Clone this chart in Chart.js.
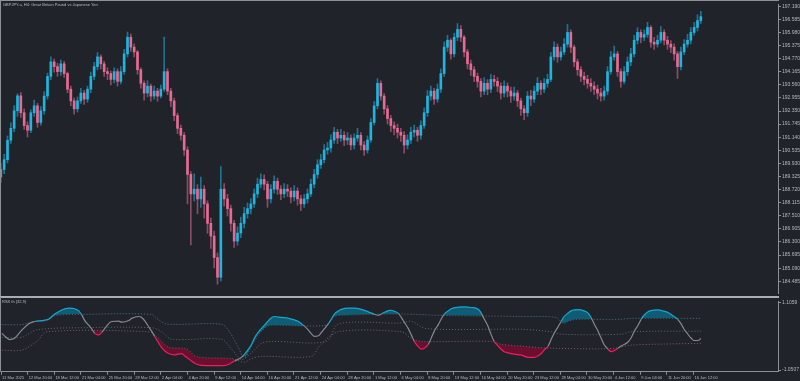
<!DOCTYPE html>
<html><head><meta charset="utf-8">
<script src="https://cdn.jsdelivr.net/npm/chart.js@4.4.1/dist/chart.umd.min.js"></script>
<style>
html,body{margin:0;padding:0;background:#20242a;width:800px;height:381px;overflow:hidden;position:relative}
canvas{position:absolute;left:0}
#c1{top:0}
#c2{top:297px}
.t{position:absolute;color:#b9bcc2;font-family:"Liberation Sans",Arial,sans-serif;font-size:4px;white-space:nowrap;line-height:5px}
</style></head><body>
<canvas id="c1" width="800" height="297"></canvas>
<canvas id="c2" width="800" height="84"></canvas>
<div class="t" style="left:3px;top:2px">GBPJPY.a, H4: Great Britain Pound vs Japanese Yen</div>
<div class="t" style="left:2px;top:299px">RSX th (32,9)</div>
<script>
// ---- price data (H4 candles, two bars per sample) ----
const firstOpen = 189.30;
const closes = [
189.65,190.10,191.00,191.55,192.36,193.05,192.27,191.68,191.46,192.27,
192.59,191.82,192.36,193.04,193.95,194.62,194.40,194.17,194.53,194.08,
193.36,192.82,192.45,192.82,193.18,192.90,193.36,193.95,194.40,194.85,
194.53,194.17,194.08,193.81,194.17,193.72,194.17,194.99,195.76,195.30,
195.08,194.26,193.63,193.18,193.50,193.04,193.27,193.04,193.36,194.17,
193.27,192.82,192.14,191.55,191.23,190.55,189.42,188.52,188.74,188.29,
188.74,188.06,187.16,186.57,185.58,184.67,188.74,188.29,187.84,187.16,
186.34,186.71,187.16,187.61,187.84,188.06,188.52,188.97,189.19,188.97,
188.29,188.74,189.10,188.74,188.52,188.74,188.65,188.38,188.65,188.29,
188.06,188.29,188.52,188.97,189.42,189.87,190.10,190.55,190.64,191.01,
191.37,191.10,191.23,191.01,191.10,190.78,191.10,191.23,190.78,190.55,
191.01,191.82,192.59,193.63,193.04,192.45,192.00,191.68,191.55,191.37,
191.23,190.78,191.01,191.37,191.46,191.23,191.68,192.27,193.04,193.27,
192.90,193.36,194.08,195.30,195.62,194.99,195.76,196.12,195.76,195.08,
194.53,194.26,193.95,193.72,193.27,193.63,193.36,193.81,193.72,193.50,
193.18,193.50,193.27,193.04,193.18,192.82,192.45,192.27,193.04,192.90,
193.27,193.63,193.36,193.63,193.81,194.85,195.30,194.85,195.08,195.44,
195.98,195.30,194.62,194.26,193.95,193.81,193.63,193.50,193.36,193.18,
193.04,193.27,194.17,194.85,194.99,194.17,193.72,194.17,194.62,194.99,
195.62,195.98,195.76,195.89,196.21,195.53,195.44,195.62,195.98,195.62,
195.44,195.30,194.99,194.40,195.08,195.44,195.62,195.98,196.21,196.53,
196.71];
const highs = [
189.95,190.35,191.20,191.80,192.60,193.15,193.20,192.45,191.85,192.40,
192.85,192.70,192.55,193.25,194.10,194.85,194.75,194.55,194.70,194.65,
194.15,193.50,192.95,193.00,193.40,193.30,193.50,194.15,194.60,195.05,
194.95,194.65,194.35,194.20,194.35,194.30,194.40,195.20,196.00,195.90,
195.45,195.15,194.35,193.75,193.75,193.60,193.50,193.40,193.55,195.76,
194.30,193.40,192.95,192.25,191.70,191.35,190.70,189.55,189.45,188.95,
189.30,188.90,188.20,187.40,186.80,185.80,189.78,189.00,188.50,188.00,
187.30,187.00,187.45,187.90,188.10,188.30,188.75,189.25,189.45,189.40,
189.10,188.95,189.35,189.25,188.90,189.00,188.95,188.80,188.90,188.80,
188.45,188.50,188.75,189.20,189.65,190.10,190.35,190.80,190.90,191.25,
191.60,191.50,191.50,191.40,191.35,191.25,191.30,191.55,191.35,190.95,
191.20,192.00,192.80,193.85,193.75,193.15,192.60,192.15,191.85,191.75,
191.55,191.40,191.25,191.60,191.70,191.60,191.90,192.50,193.30,193.50,
193.40,193.60,194.30,195.55,195.85,195.70,195.95,196.39,196.30,195.85,
195.20,194.70,194.40,194.10,193.85,193.90,193.80,194.05,194.00,193.90,
193.65,193.75,193.65,193.45,193.45,193.30,192.95,192.60,193.25,193.30,
193.50,193.90,193.75,193.85,194.05,195.05,195.55,195.45,195.30,195.70,
196.35,196.10,195.40,194.75,194.40,194.15,194.00,193.85,193.70,193.55,
193.40,193.50,194.40,195.10,195.35,195.10,194.30,194.40,194.85,195.25,
195.85,196.20,196.10,196.10,196.45,196.30,195.75,195.85,196.25,196.10,
195.80,195.60,195.45,195.10,195.30,195.65,195.90,196.20,196.45,196.80,
196.95];
const lows = [
189.05,189.45,189.95,190.85,191.40,192.10,192.05,191.50,191.15,191.35,
192.10,191.60,191.70,192.20,192.90,193.80,194.15,193.95,194.00,193.90,
193.20,192.60,192.20,192.30,192.70,192.65,192.75,193.20,193.80,194.25,
194.30,193.95,193.80,193.55,193.65,193.50,193.60,194.05,194.85,195.10,
194.85,194.05,193.40,192.85,193.00,192.80,192.90,192.80,192.95,193.25,
193.10,192.55,191.90,191.30,191.00,190.30,188.06,186.16,188.20,187.60,
187.90,187.40,186.70,186.00,185.10,184.35,184.50,187.95,187.50,186.80,
186.05,186.15,186.50,186.95,187.40,187.60,187.90,188.35,188.80,188.70,
187.90,188.10,188.55,188.50,188.25,188.35,188.40,188.10,188.20,188.00,
187.75,187.90,188.10,188.40,188.80,189.25,189.70,189.95,190.35,190.45,
190.85,190.85,190.95,190.75,190.80,190.55,190.60,190.95,190.55,190.30,
190.40,190.90,191.70,192.45,192.85,192.20,191.75,191.40,191.25,191.10,
190.95,190.40,190.60,190.85,191.15,190.95,191.05,191.55,192.10,192.85,
192.65,192.75,193.20,193.95,195.10,194.75,194.85,195.60,195.55,194.85,
194.30,194.00,193.70,193.45,193.00,193.10,193.10,193.20,193.50,193.25,
192.90,193.00,193.00,192.75,192.85,192.55,192.15,191.95,192.10,192.60,
192.75,193.10,193.10,193.20,193.45,193.70,194.70,194.60,194.70,194.95,
195.30,195.05,194.40,194.00,193.70,193.55,193.40,193.25,193.10,192.90,
192.80,192.85,193.10,194.05,194.70,193.95,193.45,193.60,194.00,194.45,
194.85,195.45,195.50,195.60,195.75,195.30,195.20,195.30,195.50,195.40,
195.20,195.05,194.70,193.85,194.25,194.95,195.30,195.45,195.85,196.05,
196.40];

// ---- axis tick labels ----
const yTicks = [197.190,196.585,195.980,195.375,194.770,194.165,193.560,192.955,192.350,191.745,191.140,
  190.535,189.930,189.325,188.720,188.115,187.510,186.905,186.300,185.695,185.090,184.485];
const xLabels = ["11 Mar 2025","12 Mar 20:00","18 Mar 12:00","21 Mar 04:00","25 Mar 20:00","28 Mar 12:00",
  "2 Apr 04:00","4 Apr 20:00","9 Apr 12:00","14 Apr 04:00","16 Apr 20:00","21 Apr 12:00","24 Apr 04:00",
  "28 Apr 20:00","1 May 12:00","6 May 04:00","8 May 20:00","13 May 12:00","16 May 04:00","20 May 20:00",
  "23 May 12:00","28 May 04:00","30 May 20:00","4 Jun 12:00","9 Jun 04:00","11 Jun 20:00","16 Jun 12:00"];
const indTicks = [1.1059, -1.0507];

// ---- oscillator (x = sample index) ----
const rsxX = [0,1,2.4,3.9,6,8.1,9.9,12,14.1,15.9,18,20.1,21.9,23.1,24,24.9,26.1,27,27.9,29.1,30,30.9,32.1,33,35.1,36,38.1,39,41.1,42,42.9,44.1,45,45.9,47.1,48,48.9,50.1,51.9,54,54.9,56.1,57,57.9,60,63,66,68.1,69.9,72,72.9,74.1,75,75.9,77.1,78.9,80.1,81,81.9,84,86.1,87.9,89.1,90,90.9,92.1,93,93.9,95.1,96,96.9,98.1,99,99.9,101.1,102,104.1,105.9,108,110.1,111.9,113.1,114,116.1,117,117.9,119.1,120,120.9,122.1,123,123.9,125.1,126,126.9,128.1,129,129.9,131.1,132,132.9,134.1,135,137.1,138.9,141,143.1,144,144.9,146.1,147,147.9,149.1,150,150.9,152.1,153.9,156,158.1,159.9,161.1,162,162.9,164.1,165,165.9,167.1,168,168.9,170.1,171,173.1,174.9,176.1,177,177.9,179.1,180,180.9,182.1,183,183.9,185.1,186,188.1,189,189.9,191.1,192,192.9,194.1,195,197.1,198.9,200.1,201,201.9,203.1,204,204.9,206.1,207,207.9,209.1,210];
const rsxV = [0.13,0.03,-0.07,-0.02,0.23,0.44,0.51,0.54,0.59,0.75,0.88,0.94,0.92,0.85,0.72,0.54,0.39,0.27,0.13,0.08,0.16,0.28,0.44,0.51,0.52,0.49,0.54,0.61,0.67,0.64,0.54,0.34,0.20,0.03,-0.18,-0.33,-0.43,-0.52,-0.56,-0.52,-0.59,-0.69,-0.76,-0.83,-0.90,-0.91,-0.91,-0.87,-0.76,-0.64,-0.54,-0.38,-0.23,-0.02,0.18,0.39,0.54,0.63,0.67,0.64,0.61,0.56,0.51,0.44,0.36,0.23,0.11,0.03,0.05,0.16,0.28,0.44,0.59,0.75,0.85,0.90,0.94,0.94,0.90,0.82,0.74,0.71,0.75,0.86,0.87,0.84,0.77,0.64,0.49,0.28,0.08,-0.13,-0.30,-0.38,-0.35,-0.23,-0.02,0.20,0.41,0.59,0.75,0.85,0.92,0.97,0.98,0.96,0.90,0.78,0.59,0.34,0.08,-0.13,-0.28,-0.38,-0.46,-0.50,-0.54,-0.57,-0.64,-0.64,-0.59,-0.52,-0.41,-0.28,-0.07,0.13,0.34,0.51,0.67,0.78,0.85,0.89,0.85,0.78,0.64,0.44,0.20,-0.02,-0.23,-0.38,-0.46,-0.43,-0.35,-0.28,-0.15,-0.02,0.18,0.39,0.57,0.71,0.82,0.86,0.88,0.84,0.80,0.74,0.67,0.57,0.44,0.27,0.10,-0.02,-0.10,-0.10,-0.04];
const upX = [0,6,9.9,11.1,14,16,24,45,46.5,49.5,66,68.4,70.8,72.9,75,77.1,79.5,81,97.5,99.9,102,120,133.5,156,166.5,168.6,171,174,186,189,210];
const upV = [0.41,0.41,0.51,0.51,0.55,0.70,0.74,0.74,0.61,0.43,0.42,0.18,-0.28,-0.65,-0.28,0.09,0.34,0.39,0.39,0.67,0.71,0.75,0.70,0.67,0.64,0.46,0.55,0.58,0.58,0.61,0.61];
const midX = [0,6,10.5,24,45,48,51,66,69,72,75,78,81,97.5,101.1,120,123,127.5,156,165,168,186,189,210];
const midV = [0.00,0.00,0.24,0.31,0.31,0.18,-0.06,-0.06,-0.37,-0.71,-0.50,-0.19,-0.13,-0.13,0.43,0.46,0.52,0.28,0.26,0.18,0.10,0.10,0.18,0.20];
const loX = [0,6,10.5,13.5,44.4,46.5,50.1,55.5,58.5,69,72.9,75,78,93,95.4,101.1,120,123,126,147,150,156,163.5,180,184.5,189,210];
const loV = [-0.41,-0.41,-0.13,0.18,0.18,0.03,-0.31,-0.37,-0.62,-0.68,-0.80,-0.68,-0.61,-0.61,-0.28,0.18,0.18,-0.03,-0.13,-0.13,-0.22,-0.28,-0.34,-0.37,-0.34,-0.25,-0.19];

// ---- styles ----
const AX='#8c9097', TXT='#b4b7bd';
const UP='#1fb5de', DN='#e46b93', UPW='rgba(31,181,222,0.55)', DNW='rgba(228,107,147,0.55)';
const CY='#1aa6cf', PK='#ea1f5e', GR='#85888e', CYF='#0e5c75', PKF='#6c0f2f', LV='#62666d';
const FONT={family:'"Liberation Sans", Arial, sans-serif', size:5};
const XFONT={family:'"Liberation Sans", Arial, sans-serif', size:4};
const XMIN=-0.25, XMAX=233.15;

const opens = closes.map((c,i)=> i===0 ? firstOpen : closes[i-1]);
const isUp = closes.map((c,i)=> c >= opens[i]);

const frame1 = {id:'frame1', afterDraw(ch){const c=ch.ctx;c.save();c.fillStyle=AX;c.fillRect(0,0,779,1);c.fillRect(0,0,1,297);c.fillStyle='#a9adb3';c.fillRect(0,296,779,1);c.restore();}};
const frame2 = {id:'frame2', afterDraw(ch){const c=ch.ctx;c.save();c.fillStyle='#a9adb3';c.fillRect(0,0,779,1);c.fillStyle=AX;c.fillRect(0,0,1,ch.chartArea.bottom);c.restore();}};

new Chart(document.getElementById('c1'), {
  type:'bar',
  data:{datasets:[
    {data: closes.map((c,i)=>({x:i, y:[lows[i],highs[i]]})), backgroundColor: isUp.map(u=>u?UPW:DNW), borderWidth:0, barThickness:1, grouped:false, order:2},
    {data: closes.map((c,i)=>({x:i, y:[opens[i],c]})), backgroundColor: isUp.map(u=>u?UP:DN), borderWidth:0, barThickness:2, grouped:false, order:1}
  ]},
  options:{
    responsive:false, animation:false, devicePixelRatio:1,
    layout:{padding:{top:1,bottom:1,left:0,right:0}},
    plugins:{legend:{display:false}, tooltip:{enabled:false}, colors:{enabled:false}},
    scales:{
      x:{type:'linear', display:false, min:XMIN, max:XMAX, offset:false},
      y:{position:'right', min:183.942, max:197.294,
         afterFit(s){s.width=22;},
         afterBuildTicks(s){s.ticks=yTicks.map(v=>({value:v}));},
         ticks:{autoSkip:false, color:TXT, font:FONT, padding:1, callback:v=>Number(v).toFixed(3)},
         grid:{drawOnChartArea:false, color:AX, tickLength:3},
         border:{color:AX}}
    }
  },
  plugins:[frame1]
});

function levelAt(xs, vs, x){
  if (x<=xs[0]) return vs[0];
  for (let i=1;i<xs.length;i++){ if (x<=xs[i]) { const t=(x-xs[i-1])/(xs[i]-xs[i-1]); return vs[i-1]+t*(vs[i]-vs[i-1]); } }
  return vs[vs.length-1];
}
const pts=(xs,vs)=>xs.map((x,i)=>({x, y:vs[i]}));
const lvl=(xs,vs,ord)=>({data:pts(xs,vs), borderColor:LV, backgroundColor:LV, borderWidth:1, borderDash:[1,2], pointRadius:0, tension:0.3, fill:false, order:ord});

new Chart(document.getElementById('c2'), {
  type:'line',
  data:{datasets:[
    lvl(upX,upV,1),
    lvl(midX,midV,2),
    lvl(loX,loV,3),
    {data:pts(rsxX,rsxV), borderColor:GR, backgroundColor:CYF, borderWidth:1.2, pointRadius:0, cubicInterpolationMode:'monotone', order:0,
     fill:{target:0, above:CYF, below:'rgba(0,0,0,0)'},
     segment:{borderColor:ctx=>{const x=(ctx.p0.parsed.x+ctx.p1.parsed.x)/2, y=(ctx.p0.parsed.y+ctx.p1.parsed.y)/2;
        if (y>levelAt(upX,upV,x)) return CY; if (y<levelAt(loX,loV,x)) return PK; return GR;}}},
    {data:pts(rsxX,rsxV), borderWidth:0, borderColor:'rgba(0,0,0,0)', backgroundColor:PKF, pointRadius:0, cubicInterpolationMode:'monotone', order:4,
     fill:{target:2, above:'rgba(0,0,0,0)', below:PKF}}
  ]},
  options:{
    responsive:false, animation:false, devicePixelRatio:1,
    layout:{padding:{top:1,bottom:0,left:0,right:0}},
    plugins:{legend:{display:false}, tooltip:{enabled:false}, colors:{enabled:false}},
    scales:{
      x:{type:'linear', min:XMIN, max:XMAX, offset:false,
         afterFit(s){s.height=9.3;},
         afterBuildTicks(s){s.ticks=xLabels.map((l,k)=>({value:8*k+XMIN}));},
         ticks:{autoSkip:false, maxRotation:0, align:'start', color:TXT, font:XFONT, padding:1, callback:(v,i)=>' '+xLabels[i]},
         grid:{drawOnChartArea:false, color:AX, tickLength:3},
         border:{color:AX}},
      y:{position:'right', min:-1.1024, max:1.1676,
         afterFit(s){s.width=22;},
         afterBuildTicks(s){s.ticks=indTicks.map(v=>({value:v}));},
         ticks:{autoSkip:false, color:TXT, font:FONT, padding:1, callback:v=>Number(v).toFixed(4)},
         grid:{drawOnChartArea:false, color:AX, tickLength:3},
         border:{color:AX}}
    }
  },
  plugins:[frame2]
});
</script>
</body></html>
